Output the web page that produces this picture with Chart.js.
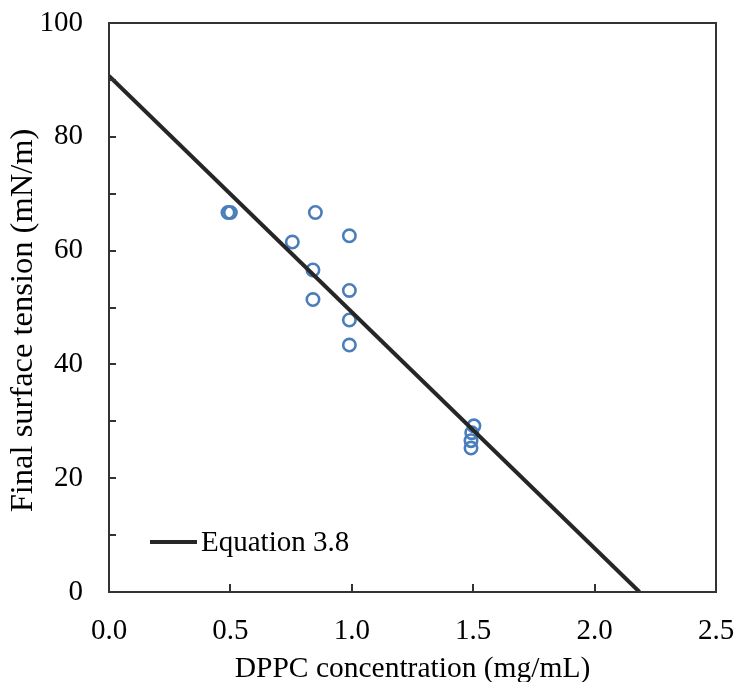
<!DOCTYPE html>
<html>
<head>
<meta charset="utf-8">
<script src="https://cdn.jsdelivr.net/npm/chart.js@4.4.1/dist/chart.umd.min.js"></script>
<style>
  html, body { margin: 0; padding: 0; background: #ffffff; }
  #wrap { width: 736px; height: 682px; position: relative; }
</style>
</head>
<body>
<div id="wrap"><canvas id="c" width="736" height="682"></canvas></div>
<script>
// ---- data ----
const dppcConc = [0.49, 0.50, 0.85, 0.755, 0.99, 0.84, 0.99, 0.84, 0.99, 0.99, 1.503, 1.494, 1.491, 1.491];
const surfaceTension = [66.7, 66.7, 66.7, 61.5, 62.6, 56.6, 53.0, 51.4, 47.8, 43.4, 29.2, 28.0, 26.6, 25.3];
const fitX = [0, 2.185];
const fitY = [90.7, 0];
const fitLabel = 'Equation 3.8';
const xTitle = 'DPPC concentration (mg/mL)';
const yTitle = 'Final surface tension (mN/m)';

const FONT = "'Liberation Serif', 'Times New Roman', serif";
const FS = 29;

const insideTicks = {
  id: 'insideTicks',
  afterDraw(chart) {
    const ctx = chart.ctx, a = chart.chartArea;
    const xs = chart.scales.x, ys = chart.scales.y;
    ctx.save();
    ctx.strokeStyle = '#333333';
    ctx.lineWidth = 2;
    ctx.beginPath();
    xs.ticks.forEach(t => {
      const px = Math.round(xs.getPixelForValue(t.value));
      ctx.moveTo(px, a.bottom); ctx.lineTo(px, a.bottom - 8);
    });
    ys.ticks.forEach(t => {
      const py = Math.round(ys.getPixelForValue(t.value));
      ctx.moveTo(a.left, py); ctx.lineTo(a.left + 7, py);
    });
    ctx.stroke();
    ctx.strokeRect(a.left, a.top, a.right - a.left, a.bottom - a.top);
    // y axis title
    ctx.fillStyle = '#000000';
    ctx.font = '32.5px ' + FONT;
    ctx.textAlign = 'center';
    ctx.textBaseline = 'middle';
    ctx.save();
    ctx.translate(23, (a.top + a.bottom) / 2 + 13);
    ctx.rotate(-Math.PI / 2);
    ctx.fillText(yTitle, 0, 0);
    ctx.restore();
    // legend inside plot area
    const ds = chart.data.datasets[0];
    const ly = a.top + (a.bottom - a.top) * 0.912;
    const lx = a.left + 41;
    ctx.strokeStyle = ds.borderColor;
    ctx.lineWidth = ds.borderWidth;
    ctx.beginPath();
    ctx.moveTo(lx, ly); ctx.lineTo(lx + 47, ly);
    ctx.stroke();
    ctx.font = FS + 'px ' + FONT;
    ctx.textBaseline = 'middle';
    ctx.textAlign = 'left';
    ctx.fillText(ds.label, lx + 51, ly + 1);
    ctx.restore();
  }
};

new Chart(document.getElementById('c'), {
  type: 'scatter',
  data: {
    datasets: [
      {
        type: 'line',
        label: fitLabel,
        data: fitX.map((x, i) => ({ x: x, y: fitY[i] })),
        borderColor: '#262626',
        borderWidth: 4,
        pointRadius: 0,
        fill: false,
        order: 0
      },
      {
        label: 'Data',
        data: dppcConc.map((x, i) => ({ x: x, y: surfaceTension[i] })),
        pointRadius: 6.2,
        pointBorderWidth: 2.6,
        pointBorderColor: '#4A7EBB',
        pointBackgroundColor: 'rgba(0,0,0,0)',
        showLine: false,
        order: 1
      }
    ]
  },
  options: {
    responsive: false,
    animation: false,
    layout: { padding: { top: 23, right: 20, bottom: 0, left: 0 } },
    plugins: { legend: { display: false }, tooltip: { enabled: false } },
    scales: {
      x: {
        type: 'linear', min: 0, max: 2.5,
        border: { display: false },
        grid: { display: false, drawTicks: false },
        ticks: {
          stepSize: 0.5, padding: 22, color: '#000000',
          font: { family: FONT, size: FS },
          callback: v => Number(v).toFixed(1)
        },
        title: {
          display: true, text: xTitle, color: '#000000',
          font: { family: FONT, size: 29.5 }, padding: { top: 0, bottom: -5 }
        },
        afterFit: s => { s.height = 90; s.paddingLeft = 0; s.paddingRight = 0; }
      },
      y: {
        type: 'linear', min: 0, max: 100,
        border: { display: false },
        grid: { display: false, drawTicks: false },
        ticks: {
          stepSize: 10, padding: 26, color: '#000000',
          font: { family: FONT, size: FS },
          callback: v => (v % 20 === 0 ? String(v) : '')
        },
        title: { display: false },
        afterFit: s => { s.width = 109; s.paddingTop = 0; s.paddingBottom = 0; }
      }
    }
  },
  plugins: [insideTicks]
});
</script>
</body>
</html>
